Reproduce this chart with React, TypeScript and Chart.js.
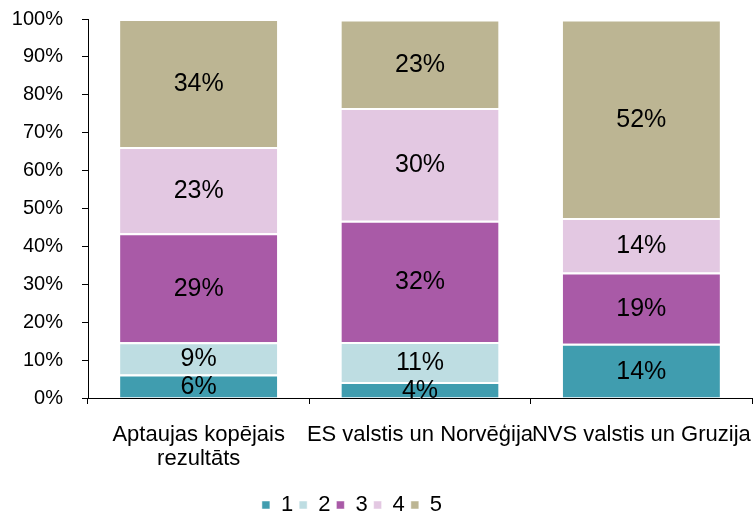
import React, { useEffect, useRef } from "react";
import { Chart, registerables } from "chart.js";

Chart.register(...registerables);

const categories: (string | string[])[] = [
  ["Aptaujas kopējais", "rezultāts"],
  "ES valstis un Norvēģija",
  "NVS valstis un Gruzija",
];
const seriesNames = ["1", "2", "3", "4", "5"];
const series1 = [6.2, 4.2, 14.3];
const series2 = [8.5, 10.6, 0];
const series3 = [28.8, 32.0, 18.8];
const series4 = [22.7, 29.7, 14.4];
const series5 = [33.8, 23.4, 52.4];
const seriesColors = ["#409daf", "#bedde2", "#a95aa7", "#e3c8e2", "#bcb593"];
const yTicks = [0, 10, 20, 30, 40, 50, 60, 70, 80, 90, 100];

const FONT = '"Liberation Sans", Arial, sans-serif';

const dataLabels = {
  id: "dataLabels",
  afterDatasetsDraw(chart: any) {
    const ctx = chart.ctx;
    ctx.save();
    ctx.font = `25px ${FONT}`;
    ctx.fillStyle = "#000";
    ctx.textAlign = "center";
    ctx.textBaseline = "middle";
    chart.data.datasets.forEach((ds: any, i: number) => {
      const meta = chart.getDatasetMeta(i);
      meta.data.forEach((bar: any, j: number) => {
        const v = ds.data[j];
        if (!v) return;
        const { x, y, base } = bar.getProps(["x", "y", "base"], true);
        ctx.fillText(Math.round(v) + "%", x, (y + base) / 2 + 1);
      });
    });
    ctx.restore();
  },
};

const legendOffset = {
  id: "legendOffset",
  afterLayout(chart: any) {
    const l = chart.legend;
    if (!l) return;
    l.left -= 30;
    l.right -= 30;
    l.top += 16;
    l.bottom += 16;
  },
};

export default function App() {
  const ref = useRef<HTMLCanvasElement>(null);
  useEffect(() => {
    if (!ref.current) return;
    const allSeries = [series1, series2, series3, series4, series5];
    const chart = new Chart(ref.current, {
      type: "bar",
      data: {
        labels: categories,
        datasets: allSeries.map((d, i) => ({
          label: seriesNames[i],
          data: d,
          backgroundColor: seriesColors[i],
          borderColor: "#ffffff",
          borderWidth: { top: 2, bottom: 0, left: 0, right: 0 },
          borderSkipped: false,
          categoryPercentage: 0.71,
          barPercentage: 1,
        })),
      },
      options: {
        animation: false,
        responsive: true,
        maintainAspectRatio: false,
        layout: { padding: { left: 12, right: 4, top: 7, bottom: 5 } },
        plugins: {
          tooltip: { enabled: false },
          legend: {
            position: "bottom",
            labels: {
              boxWidth: 8,
              boxHeight: 8,
              padding: 6,
              color: "#000",
              font: { family: FONT, size: 22 },
            },
          },
        },
        scales: {
          x: {
            stacked: true,
            afterFit(scale: any) {
              scale.height = 74;
              scale.paddingLeft = 0;
              scale.paddingRight = 0;
            },
            grid: {
              display: true,
              drawOnChartArea: false,
              drawTicks: true,
              tickLength: 6,
              color: "#000",
              offset: true,
            },
            border: { display: true, color: "#000", width: 1 },
            ticks: {
              color: "#000",
              padding: 19,
              maxRotation: 0,
              autoSkip: false,
              font: { family: FONT, size: 22, lineHeight: 1.1 },
            },
          },
          y: {
            stacked: true,
            min: 0,
            max: 100,
            afterBuildTicks(axis: any) {
              axis.ticks = yTicks.map((v) => ({ value: v }));
            },
            afterFit(scale: any) {
              scale.width = 76;
              scale.paddingTop = 19;
              scale.paddingBottom = 12;
            },
            grid: {
              display: true,
              drawOnChartArea: false,
              drawTicks: true,
              tickLength: 6,
              color: "#000",
            },
            border: { display: true, color: "#000", width: 1 },
            ticks: {
              color: "#000",
              padding: 19,
              font: { family: FONT, size: 20 },
              callback: (v: any) => v + "%",
            },
          },
        },
      },
      plugins: [dataLabels, legendOffset],
    });
    return () => chart.destroy();
  }, []);
  return (
    <div style={{ position: "fixed", left: 0, top: 0, width: 756, height: 515, background: "#fff" }}>
      <canvas ref={ref} />
    </div>
  );
}
